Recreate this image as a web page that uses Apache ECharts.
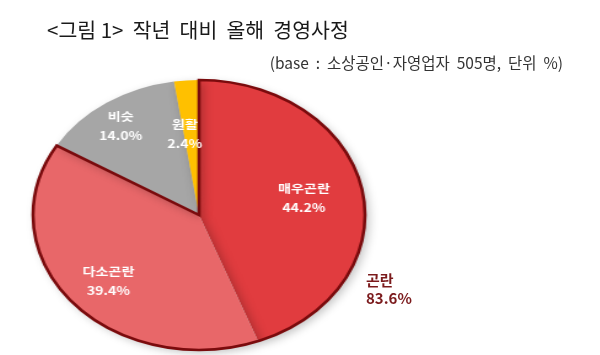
<!DOCTYPE html>
<html>
<head>
<meta charset="utf-8">
<script src="https://cdn.jsdelivr.net/npm/echarts@6/dist/echarts.min.js"></script>
<style>
  html, body { margin: 0; padding: 0; background: #fff; }
  #wrap { position: relative; width: 600px; height: 355px; overflow: hidden; }
  #main, #pie { position: absolute; left: 0; top: 0; width: 600px; height: 355px; }
  #pie { transform-origin: 199px 0; transform: scaleX(1.2296); }
</style>
</head>
<body>
<div id="wrap">
  <div id="main"></div>
  <div id="pie"></div>
</div>
<script>
// ---- data ----
const categories = ['매우곤란', '다소곤란', '비슷', '원활'];
const values = [44.2, 39.4, 14.0, 2.4];
const groupName = '곤란';
const groupMembers = [0, 1];
const titleText = '<그림 1>  작년  대비  올해  경영사정';
const subtitleText = '(base  :  소상공인·자영업자  505명,  단위  %)';

// ---- styles ----
const colors = ['#E13C3F', '#E86769', '#A6A6A6', '#FFC000'];
const outline = '#7A0B0D';
const font = "'Noto Sans CJK KR', 'Noto Sans', sans-serif";
const labelOffsets = [[-13, 1], [3, 2], [-8, -6], [-4, 19]];

const groupValue = groupMembers.reduce((s, i) => s + values[i], 0);
const total = values.reduce((a, b) => a + b, 0);

// main chart: titles + group annotation
const main = echarts.init(document.getElementById('main'), null, { renderer: 'canvas' });
main.setOption({
  animation: false,
  title: [
    { text: titleText, left: 42, top: 11,
      textStyle: { fontFamily: font, fontSize: 20.5, fontWeight: 'normal', color: '#1a1a1a', lineHeight: 28 } },
    { text: subtitleText, right: 32, top: 48,
      textStyle: { fontFamily: font, fontSize: 15.5, fontWeight: 'normal', color: '#333', lineHeight: 20 } },
    { text: groupName + '\n' + groupValue.toFixed(1) + '%', left: 361, top: 266,
      textStyle: { fontFamily: font, fontSize: 15, fontWeight: 'bold', color: '#7B1A1C', lineHeight: 18 } }
  ],
  series: []
});

// pie chart (stretched horizontally to form the ellipse)
const pie = echarts.init(document.getElementById('pie'), null, { renderer: 'canvas' });
const pieCenter = [199, 215];
pie.setOption({
  animation: false,
  series: [
    {
      type: 'pie', center: pieCenter, radius: 135, startAngle: 90, clockwise: true,
      silent: true, label: { show: false }, labelLine: { show: false },
      itemStyle: { borderWidth: 0, shadowBlur: 8, shadowOffsetX: 3, shadowOffsetY: 3, shadowColor: 'rgba(0,0,0,0.25)' },
      data: categories.map((c, i) => ({ name: c, value: values[i], itemStyle: { color: colors[i] } }))
    },
    {
      type: 'pie', center: pieCenter, radius: 135, startAngle: 90, clockwise: true,
      silent: true, label: { show: false }, labelLine: { show: false },
      data: [
        { name: groupName, value: groupValue,
          itemStyle: { color: 'rgba(0,0,0,0)', borderColor: outline, borderWidth: 2.6, borderJoin: 'miter' } },
        { name: 'rest', value: total - groupValue,
          itemStyle: { color: 'rgba(0,0,0,0)', borderWidth: 0 } }
      ]
    },
    {
      type: 'pie', center: pieCenter, radius: [0, 194], startAngle: 90, clockwise: true,
      silent: true, labelLine: { show: false },
      itemStyle: { color: 'rgba(0,0,0,0)', borderWidth: 0 },
      label: {
        show: true, position: 'inside',
        formatter: p => '{n|' + p.name + '}\n{v|' + p.value.toFixed(1) + '%}',
        rich: {
          n: { fontFamily: font, fontSize: 11.5, fontWeight: 'bold', color: '#fff', lineHeight: 19 },
          v: { fontFamily: font, fontSize: 11.5, fontWeight: 'bold', color: '#fff', lineHeight: 19 }
        }
      },
      data: categories.map((c, i) => ({ name: c, value: values[i], label: { offset: labelOffsets[i] } }))
    }
  ]
});
</script>
</body>
</html>
